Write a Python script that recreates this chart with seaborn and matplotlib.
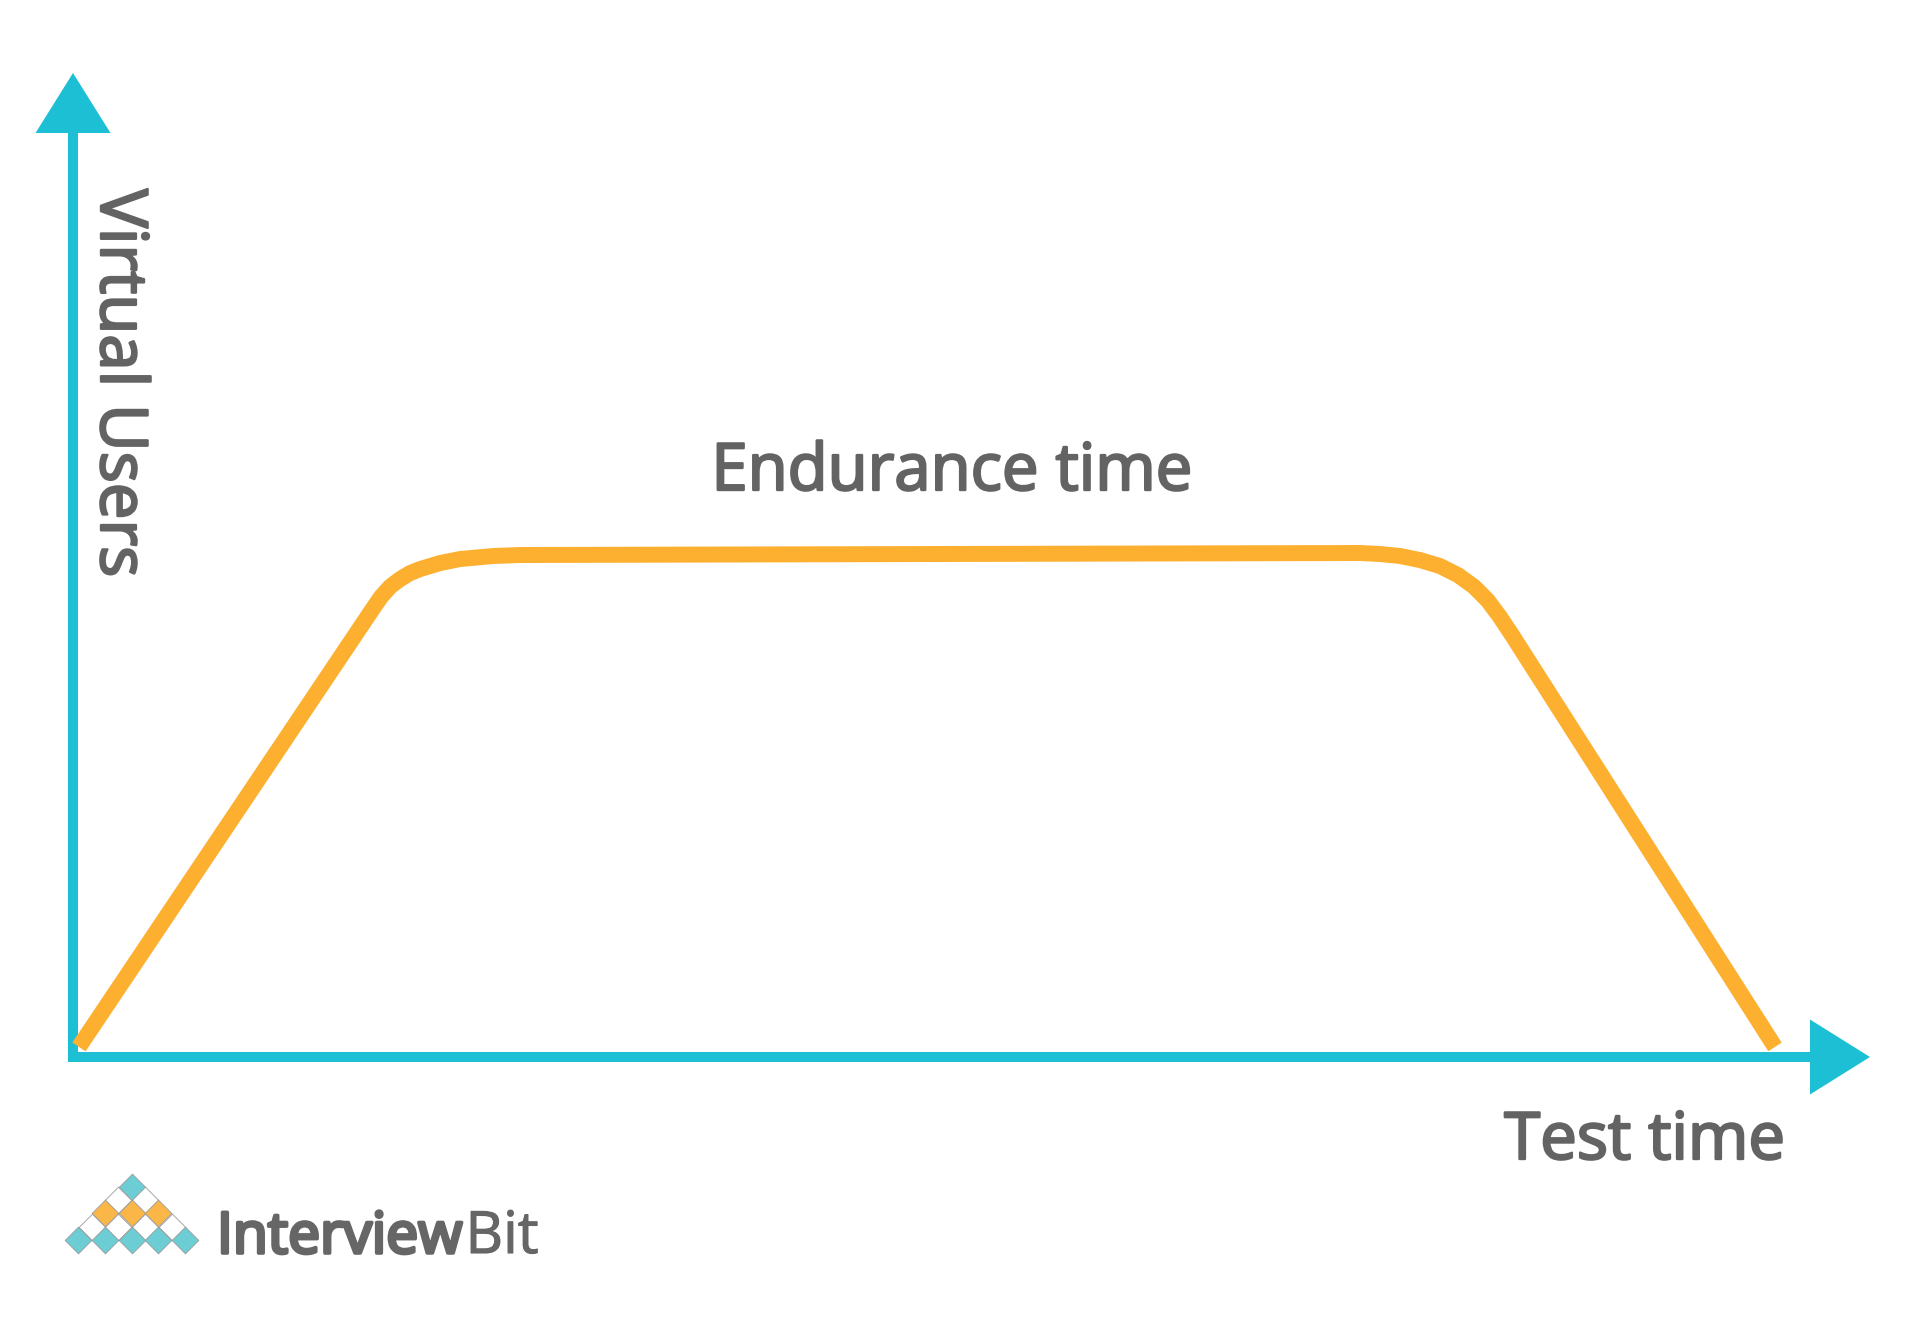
import numpy as np
import pandas as pd
import seaborn as sns
import matplotlib.pyplot as plt
import matplotlib.patheffects as pe
from matplotlib.patches import FancyArrow

# endurance test load profile
# test time and virtual users, both in % of the full run / peak load
test_time = [0.35, 17.57, 18.10, 18.63, 19.21, 19.80, 20.39, 21.56, 22.74, 24.68, 26.26,
             75.62, 76.79, 77.97, 79.14, 80.32, 81.38, 82.32, 83.14, 83.84, 84.55, 100.0]
virtual_users = [2.0, 88.8, 91.4, 93.4, 94.9, 96.1, 96.9, 98.1, 98.9, 99.5, 99.7,
                 100.1, 99.9, 99.5, 98.7, 97.5, 95.7, 93.4, 90.6, 87.4, 83.8, 2.0]

# logo pyramid: diamonds per row (top to bottom) and row colours
logo_rows = [1, 2, 3, 4, 5]
logo_colors = ['#6ccdd4', '#ffffff', '#fbb648', '#ffffff', '#6ccdd4']

TEAL = '#1dbfd4'
ORANGE = '#fdb030'
GREY = '#636363'

# layout in pixels
W, H = 1913, 1319
X0, Y0 = 73, 1057        # where the two axes meet
KX, KY = 17.02, 5.035    # px per data unit

sns.set_style('white')
plt.rcParams['font.family'] = ['Open Sans', 'DejaVu Sans']


def heavy(width, color=GREY):
    # installed Open Sans has no heavy weight, so thicken the glyphs a little
    return [pe.withStroke(linewidth=width, foreground=color, joinstyle='round', capstyle='round')]


fig = plt.figure(figsize=(W / 100, H / 100), dpi=100)
ax = fig.add_axes([0, 0, 1, 1])
ax.set_xlim(-X0 / KX, (W - X0) / KX)
ax.set_ylim(-(H - Y0) / KY, Y0 / KY)
ax.axis('off')

# axes drawn as arrows
ax.add_patch(FancyArrow(-5 / KX, 0, (1870 - X0 + 5) / KX, 0, width=10 / KY,
                        head_width=75 / KY, head_length=60 / KX,
                        length_includes_head=True, color=TEAL, lw=0))
ax.add_patch(FancyArrow(0, -5 / KY, 0, (Y0 - 73 + 5) / KY, width=10 / KX,
                        head_width=75 / KX, head_length=60 / KY,
                        length_includes_head=True, color=TEAL, lw=0))

df = pd.DataFrame({'test_time': test_time, 'virtual_users': virtual_users})
sns.lineplot(data=df, x='test_time', y='virtual_users', sort=False, estimator=None,
             color=ORANGE, lw=11.5, solid_capstyle='butt', solid_joinstyle='round',
             ax=ax, zorder=3)

ax.text((952 - X0) / KX, (Y0 - 490) / KY, 'Endurance time', ha='center', va='baseline',
        fontsize=47, color=GREY, path_effects=heavy(1.7))
ax.text((1785 - X0) / KX, (Y0 - 1159) / KY, 'Test time', ha='right', va='baseline',
        fontsize=47, color=GREY, path_effects=heavy(1.7))
ax.text((101 - X0) / KX, (Y0 - 189) / KY, 'Virtual Users', ha='left', va='baseline',
        rotation=-90, rotation_mode='anchor', fontsize=47, color=GREY, path_effects=heavy(1.7))

# InterviewBit logo
d_px = 26.7
lax = fig.add_axes([(131.7 - 2.5 * d_px) / W, (H - 1253.4) / H, 5 * d_px / W, 3 * d_px / H])
lax.set_xlim(-2.5, 2.5)
lax.set_ylim(-2.5, 0.5)
lax.axis('off')
s = (d_px * 0.72 / np.sqrt(2)) ** 2
for r, (n, c) in enumerate(zip(logo_rows, logo_colors)):
    xs = np.arange(n) - (n - 1) / 2
    ys = np.full(n, -r / 2)
    lax.scatter(xs, ys, marker='D', s=s, color=c, edgecolor='#9a9a9a', lw=0.6, clip_on=False)

t1 = fig.text(217 / W, (H - 1253) / H, 'Interview', fontsize=41, color='#666666',
              va='baseline', path_effects=heavy(2.6, '#666666'))
ax.annotate('Bit', xy=(1, 0), xycoords=t1, ha='left', va='bottom', fontsize=42,
            color='#666666', xytext=(2, 0), textcoords='offset points',
            path_effects=heavy(0.8, '#666666'))

fig.savefig('out.png', dpi=100, facecolor='white')
